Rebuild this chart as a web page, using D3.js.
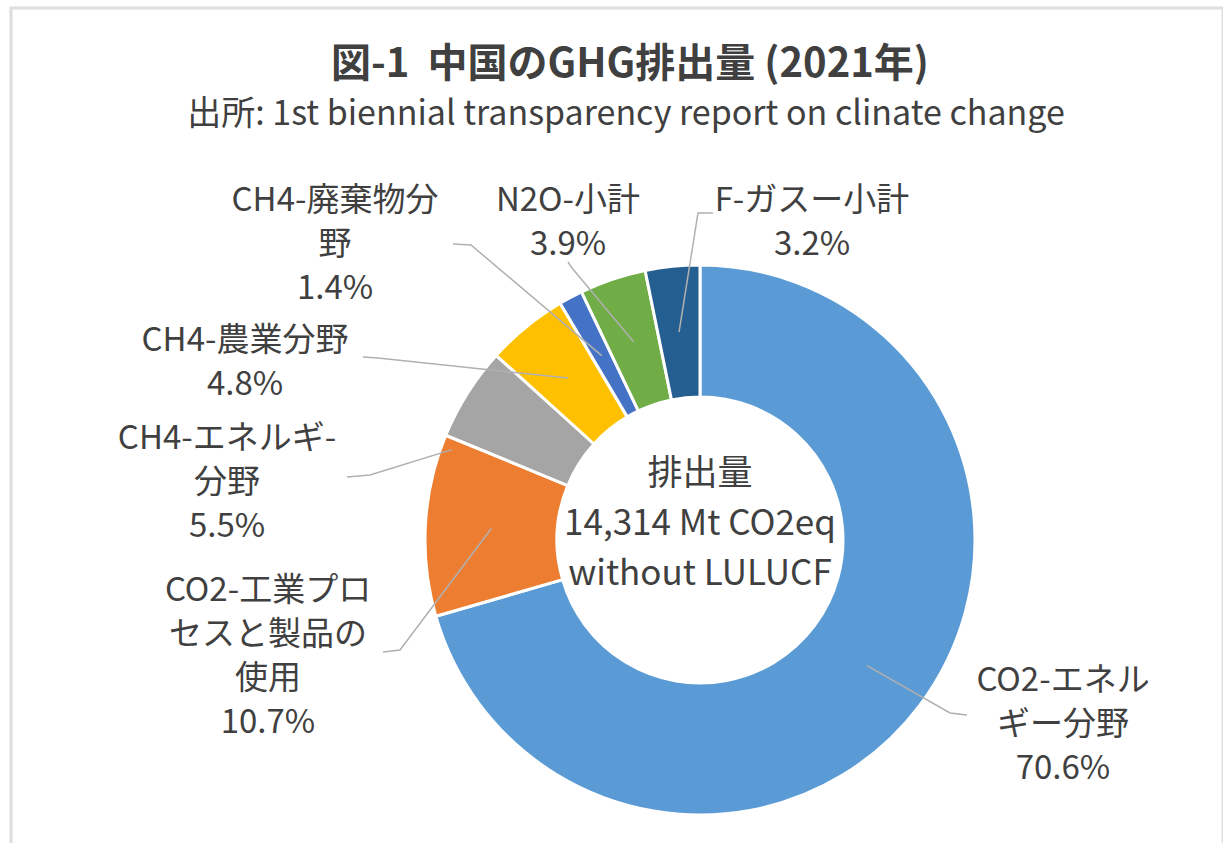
<!DOCTYPE html>
<html>
<head>
<meta charset="utf-8">
<script src="https://cdn.jsdelivr.net/npm/d3@7"></script>
<style>
    body { margin: 0; background: #fff; }
    svg text { font-family: "Noto Sans CJK JP", "Noto Sans", sans-serif; fill: #404040; white-space: pre; }
</style>
</head>
<body>
<svg id="chart" width="1223" height="843"></svg>
<script>
// Data
const categories = ["CO2-エネルギー分野", "CO2-工業プロセスと製品の使用", "CH4-エネルギー分野", "CH4-農業分野", "CH4-廃棄物分野", "N2O-小計", "F-ガスー小計"];
const shares = [70.6, 10.7, 5.5, 4.8, 1.4, 3.9, 3.2];
const labelLines = [
    ["CO2-エネル", "ギー分野"],
    ["CO2-工業プロ", "セスと製品の", "使用"],
    ["CH4-エネルギ-", "分野"],
    ["CH4-農業分野"],
    ["CH4-廃棄物分", "野"],
    ["N2O-小計"],
    ["F-ガスー小計"]
];
const centerLines = ["排出量", "14,314 Mt CO2eq", "without LULUCF"];

// Colors (Office palette)
const colors = ["#5B9BD5", "#ED7D31", "#A5A5A5", "#FFC000", "#4472C4", "#70AD47", "#255E91"];

// Label placement: text centre x, first baseline y, leader start / elbow
const labelLayout = [
    { x: 1063, y: 691, start: [967, 715], elbow: [950, 713] },
    { x: 268, y: 601, start: [383, 652], elbow: [400, 650] },
    { x: 227, y: 449, start: [347, 477], elbow: [370, 475], endR: 264, endT: -0.12 },
    { x: 245, y: 351, start: [363, 357], elbow: [378, 358] },
    { x: 335, y: 211, start: [453, 244], elbow: [471, 245] },
    { x: 568, y: 211, start: [568, 262], elbow: [572, 268] },
    { x: 812, y: 211, start: [713, 213], elbow: [698, 213] }
];

const width = 1223, height = 843;
const cx = 700, cy = 540;
const outerR = 275, innerR = 143;
const lineGap = 44;

const svg = d3.select("#chart");

// chart area border
svg.append("rect")
    .attr("x", 11).attr("y", 8)
    .attr("width", width - 11).attr("height", height)
    .attr("fill", "none")
    .attr("stroke", "#dedede")
    .attr("stroke-width", 3);

// Title
svg.append("text")
    .attr("x", 630).attr("y", 77)
    .attr("text-anchor", "middle")
    .attr("font-size", 40)
    .attr("font-weight", 700)
    .text("図-1  中国のGHG排出量 (2021年)");

svg.append("text")
    .attr("x", 626).attr("y", 125)
    .attr("text-anchor", "middle")
    .attr("font-size", 34)
    .text("出所: 1st biennial transparency report on clinate change");

const pie = d3.pie().sort(null).value(d => d);
const arcs = pie(shares);

const arc = d3.arc().innerRadius(innerR).outerRadius(outerR);
const g = svg.append("g").attr("transform", `translate(${cx},${cy})`);

// Slices
g.selectAll("path.slice")
    .data(arcs)
    .enter().append("path")
    .attr("class", "slice")
    .attr("d", arc)
    .attr("fill", (d, i) => colors[i])
    .attr("stroke", "#fff")
    .attr("stroke-width", 3)
    .attr("stroke-linejoin", "round");

// Leader lines
const leaderEnd = (d, i) => {
    const lay = labelLayout[i];
    const r = lay.endR || (innerR + outerR) / 2;
    const t = lay.endT === undefined ? 0.5 : lay.endT;
    const a = d.startAngle + (d.endAngle - d.startAngle) * t;
    return [cx + r * Math.sin(a), cy - r * Math.cos(a)];
};

svg.append("g")
    .selectAll("polyline")
    .data(arcs)
    .enter().append("polyline")
    .attr("points", (d, i) => {
        const lay = labelLayout[i];
        return [lay.start, lay.elbow, leaderEnd(d, i)].map(p => p.join(",")).join(" ");
    })
    .attr("fill", "none")
    .attr("stroke", "#b0b0b0")
    .attr("stroke-width", 1.5);

// Labels
const fmt = d3.format(".1f");
const labels = svg.append("g")
    .selectAll("text")
    .data(arcs)
    .enter().append("text")
    .attr("text-anchor", "middle")
    .attr("font-size", 33);

labels.each(function (d, i) {
    const lay = labelLayout[i];
    const lines = labelLines[i].concat([fmt(shares[i]) + "%"]);
    d3.select(this).selectAll("tspan")
        .data(lines)
        .enter().append("tspan")
        .attr("x", lay.x)
        .attr("y", (l, j) => lay.y + j * lineGap)
        .text(l => l);
});

// Centre text
g.append("text")
    .attr("text-anchor", "middle")
    .attr("font-size", 35)
    .selectAll("tspan")
    .data(centerLines)
    .enter().append("tspan")
    .attr("x", 0)
    .attr("y", (d, i) => -55 + i * 50)
    .text(d => d);
</script>
</body>
</html>
